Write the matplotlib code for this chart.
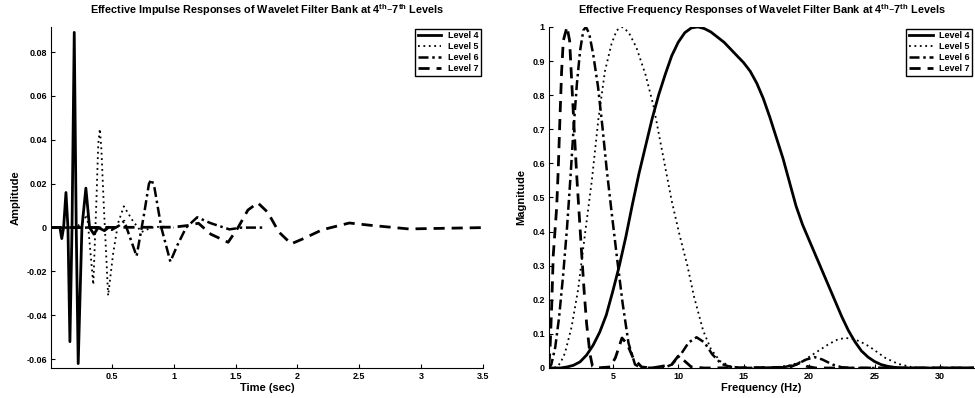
import matplotlib.pyplot as plt

plt.rcParams['font.family'] = ['Liberation Sans', 'DejaVu Sans']
plt.rcParams['font.weight'] = 'bold'
plt.rcParams['axes.titleweight'] = 'bold'
plt.rcParams['axes.labelweight'] = 'bold'
plt.rcParams['mathtext.default'] = 'regular'

levels = ['Level 4', 'Level 5', 'Level 6', 'Level 7']

# impulse responses (time in sec, amplitude)
t4 = [0.01, 0.08, 0.095, 0.11, 0.129, 0.145, 0.161, 0.178, 0.196, 0.212, 0.228, 0.258,
      0.29, 0.32, 0.355, 0.39, 0.44, 0.47]
a4 = [0.0, 0.0, -0.005, 0.0, 0.016, 0.0, -0.052, 0.0, 0.089, 0.0, -0.062, 0.0,
      0.018, 0.0, -0.003, 0.0, -0.0014, 0.0]

t5 = [0.01, 0.2, 0.26, 0.30, 0.325, 0.35, 0.375, 0.39, 0.403, 0.415, 0.435, 0.47, 0.51, 0.55,
      0.597, 0.67, 0.74, 0.82, 0.9, 1.0]
a5 = [0.0, 0.0, 0.002, 0.006, -0.01, -0.026, 0.012, 0.038, 0.045, 0.036, 0.01, -0.031, -0.012, 0.002,
      0.0097, 0.003, -0.002, 0.0, 0.0005, 0.0]

t6 = [0.01, 0.4, 0.5, 0.56, 0.6, 0.65, 0.70, 0.76, 0.80, 0.82, 0.845, 0.90, 0.973, 1.03,
      1.1, 1.19, 1.3, 1.45, 1.55, 1.72]
a6 = [0.0, 0.0, -0.001, 0.001, 0.003, -0.005, -0.013, 0.006, 0.02, 0.022, 0.018, 0.0, -0.0155, -0.008,
      0.0, 0.0047, 0.002, -0.0008, 0.0, 0.0]

t7 = [0.01, 1.0, 1.12, 1.2, 1.3, 1.44, 1.52, 1.6, 1.68, 1.76, 1.85, 1.95, 2.05,
      2.2, 2.42, 2.6, 2.9, 3.2, 3.5]
a7 = [0.0, 0.0002, 0.001, 0.002, -0.003, -0.0067, 0.0, 0.008, 0.0113, 0.007, -0.002, -0.0074, -0.005,
      -0.001, 0.0021, 0.001, -0.0006, -0.0003, 0.0]

# frequency responses (Hz, magnitude)
f4 = [0.12, 1.0, 1.5, 2.0, 2.5, 3.0, 3.5, 4.0, 4.5, 5.0, 5.5, 6.0, 6.5, 7.0, 7.5, 8.0,
      8.5, 9.0, 9.5, 10.0, 10.5, 11.0, 11.5, 12.0, 12.5, 13.0, 13.5, 14.0, 14.5, 15.0,
      15.5, 16.0, 16.5, 17.0, 17.5, 18.0, 18.5, 19.0, 19.5, 20.0, 20.5, 21.0, 21.5, 22.0,
      22.5, 23.0, 23.5, 24.0, 24.5, 25.0, 25.5, 26.0, 26.5, 27.0, 32.7]
m4 = [0.0, 0.0, 0.003, 0.008, 0.018, 0.038, 0.067, 0.105, 0.155, 0.225, 0.30, 0.385,
      0.48, 0.57, 0.65, 0.73, 0.80, 0.86, 0.915, 0.955, 0.983, 0.997, 1.0, 0.995,
      0.985, 0.97, 0.955, 0.935, 0.915, 0.895, 0.87, 0.835, 0.79, 0.735, 0.675, 0.615,
      0.545, 0.475, 0.42, 0.375, 0.33, 0.285, 0.24, 0.195, 0.15, 0.11, 0.077, 0.05,
      0.032, 0.019, 0.01, 0.005, 0.002, 0.0, 0.0]

f5 = [0.12, 0.7, 1.0, 1.35, 1.85, 2.35, 2.9, 3.4, 3.9, 4.4, 4.9, 5.3, 5.69, 6.2, 6.8, 7.5,
      8.1, 8.8, 9.5, 10.1, 10.7, 11.2, 11.9, 12.5, 13.2, 14.0, 15.0, 17.0, 18.6, 19.5,
      20.5, 21.5, 22.2, 22.8, 23.5, 24.3, 24.9, 25.8, 26.8, 27.8, 28.5, 32.7]
m5 = [0.0, 0.002, 0.015, 0.044, 0.12, 0.23, 0.40, 0.55, 0.73, 0.87, 0.95, 0.99, 1.0, 0.985, 0.94, 0.86,
      0.77, 0.63, 0.49, 0.39, 0.30, 0.21, 0.11, 0.055, 0.02, 0.005, 0.0, 0.0, 0.008, 0.02,
      0.045, 0.07, 0.084, 0.088, 0.084, 0.07, 0.055, 0.03, 0.012, 0.003, 0.0, 0.0]

f6 = [0.12, 0.3, 0.6, 0.9, 1.2, 1.5, 1.75, 2.0, 2.25, 2.5, 2.75, 2.95, 3.2, 3.5, 3.87,
      4.2, 4.54, 4.9, 5.3, 5.75, 6.2, 6.7, 7.2, 9.0, 9.5, 10.2, 10.8, 11.4, 12.0, 12.6,
      13.3, 14.0, 15.0, 18.0, 19.0, 19.8, 20.4, 21.0, 21.8, 22.5, 23.5, 32.7]
m6 = [0.0, 0.01, 0.06, 0.15, 0.27, 0.41, 0.55, 0.70, 0.83, 0.93, 0.99, 1.0, 0.98, 0.92, 0.825,
      0.71, 0.58, 0.46, 0.33, 0.19, 0.073, 0.01, 0.0, 0.002, 0.01, 0.04, 0.075, 0.09, 0.075, 0.04,
      0.012, 0.003, 0.0, 0.002, 0.01, 0.025, 0.032, 0.025, 0.01, 0.002, 0.0, 0.0]

f7 = [0.12, 0.2, 0.33, 0.45, 0.71, 0.83, 0.96, 1.09, 1.22, 1.5, 1.7, 1.86, 2.05, 2.25,
      2.45, 2.63, 2.82, 3.0, 3.26, 3.45, 3.7, 4.8, 5.2, 5.7, 6.1, 6.55, 7.2, 8.0, 9.5,
      10.0, 10.5, 11.0, 12.0, 18.5, 19.3, 19.8, 20.5, 32.7]
m7 = [0.01, 0.05, 0.18, 0.33, 0.47, 0.58, 0.73, 0.87, 0.96, 1.0, 0.96, 0.84, 0.70, 0.56,
      0.44, 0.33, 0.22, 0.13, 0.04, 0.005, 0.0, 0.003, 0.03, 0.088, 0.07, 0.03, 0.003, 0.0, 0.01,
      0.035, 0.02, 0.003, 0.0, 0.002, 0.015, 0.005, 0.0, 0.0]

styles = [dict(ls='-', lw=2.0),
          dict(ls=(0, (1, 2)), lw=1.3),
          dict(ls=(0, (4, 1.5, 1, 1.5)), lw=1.8),
          dict(ls=(0, (4, 2.5)), lw=2.0)]

fig = plt.figure(figsize=(9.75, 3.98), dpi=100)
ax1 = fig.add_axes([0.0523, 0.0754, 0.443, 0.857])
ax2 = fig.add_axes([0.563, 0.0754, 0.436, 0.857])

for t, a, lab, st in zip([t4, t5, t6, t7], [a4, a5, a6, a7], levels, styles):
    ax1.plot(t, a, color='black', label=lab, **st)
for f, m, lab, st in zip([f4, f5, f6, f7], [m4, m5, m6, m7], levels, styles):
    ax2.plot(f, m, color='black', label=lab, **st)

ax1.set_xlim(0.008, 3.5)
ax1.set_ylim(-0.064, 0.0915)
ax1.set_xticks([0.5, 1, 1.5, 2, 2.5, 3, 3.5])
ax1.set_xticklabels(['0.5', '1', '1.5', '2', '2.5', '3', '3.5'])
ax1.set_yticks([-0.06, -0.04, -0.02, 0, 0.02, 0.04, 0.06, 0.08])
ax1.set_yticklabels(['-0.06', '-0.04', '-0.02', '0', '0.02', '0.04', '0.06', '0.08'])
ax1.set_xlabel('Time (sec)', fontsize=8, labelpad=1)
ax1.set_ylabel('Amplitude', fontsize=8, labelpad=4)
ax1.set_title('Effective Impulse Responses of Wavelet Filter Bank at 4$^{th}$\u20137$^{th}$ Levels',
              fontsize=7.8, pad=9)

ax2.set_xlim(0.12, 32.6)
ax2.set_ylim(0, 1.0)
ax2.set_xticks([5, 10, 15, 20, 25, 30])
ax2.set_yticks([0, 0.1, 0.2, 0.3, 0.4, 0.5, 0.6, 0.7, 0.8, 0.9, 1.0])
ax2.set_yticklabels(['0', '0.1', '0.2', '0.3', '0.4', '0.5', '0.6', '0.7', '0.8', '0.9', '1'])
ax2.set_xlabel('Frequency (Hz)', fontsize=8, labelpad=1)
ax2.set_ylabel('Magnitude', fontsize=8, labelpad=4)
ax2.set_title('Effective Frequency Responses of Wavelet Filter Bank at 4$^{th}$\u20137$^{th}$ Levels',
              fontsize=7.8, pad=9)

for ax in (ax1, ax2):
    ax.spines['top'].set_visible(False)
    ax.spines['right'].set_visible(False)
    ax.tick_params(direction='in', length=3, labelsize=6.5, pad=3)
    leg = ax.legend(loc='upper right', fontsize=6.5, frameon=True, fancybox=False,
                    edgecolor='black', framealpha=1, borderpad=0.3, labelspacing=0.2,
                    handlelength=2.6, handletextpad=0.7, borderaxespad=0.2)
    leg.get_frame().set_linewidth(1.0)

fig.savefig('out.png', dpi=100)
